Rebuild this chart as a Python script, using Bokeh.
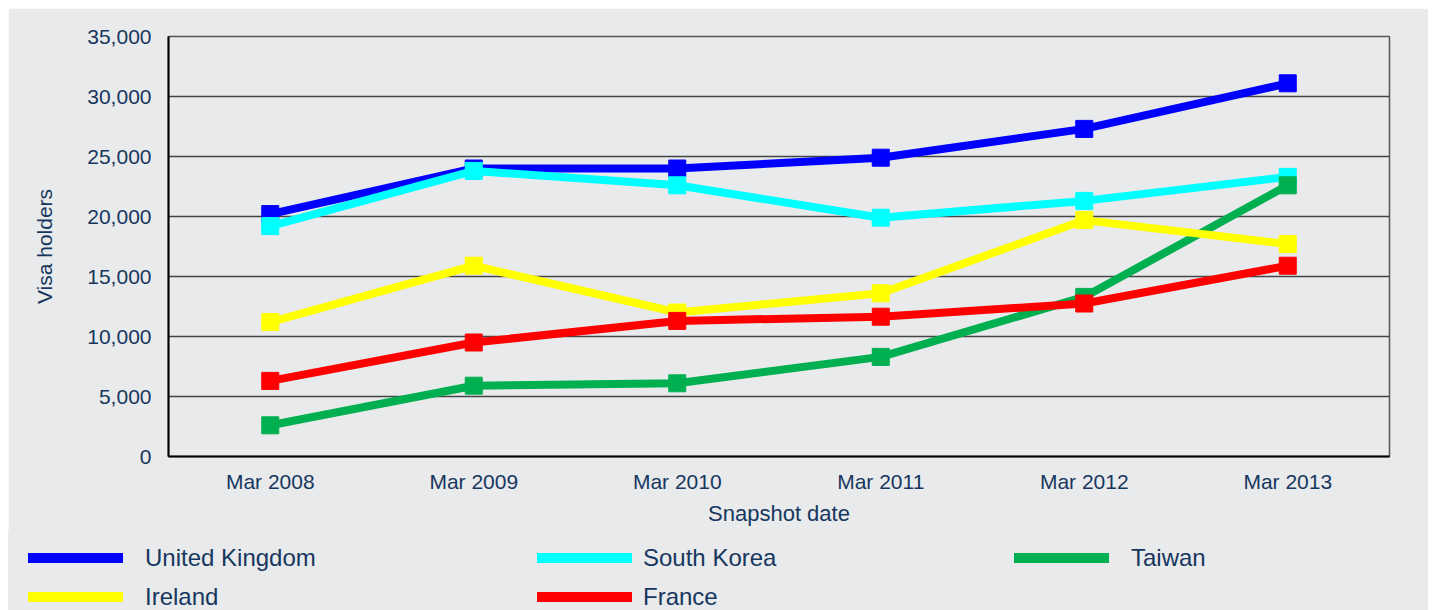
from bokeh.plotting import figure
from bokeh.layouts import column
from bokeh.models import Div, NumeralTickFormatter, FactorRange, Range1d, SingleIntervalTicker
from bokeh.embed import file_html
from bokeh.resources import INLINE

dates = ["Mar 2008", "Mar 2009", "Mar 2010", "Mar 2011", "Mar 2012", "Mar 2013"]
united_kingdom = [20200, 24000, 24000, 24900, 27300, 31100]
south_korea = [19200, 23800, 22600, 19900, 21300, 23300]
taiwan = [2600, 5900, 6100, 8300, 13300, 22600]
ireland = [11200, 15900, 12000, 13600, 19700, 17700]
france = [6300, 9500, 11300, 11650, 12750, 15900]

series_names = ["United Kingdom", "South Korea", "Taiwan", "Ireland", "France"]
series_values = [united_kingdom, south_korea, taiwan, ireland, france]
series_colors = ["#0000ff", "#00ffff", "#00b050", "#ffff00", "#ff0000"]

BG = "#e9eaec"
TXT = "#17375e"
FONT = "Liberation Sans"

p = figure(
    width=1420, height=522,
    x_range=FactorRange(*dates, range_padding=0),
    y_range=Range1d(0, 35000),
    output_backend="svg", toolbar_location=None,
    min_border_left=160, min_border_right=39, min_border_top=28, min_border_bottom=74,
    background_fill_color=BG, border_fill_color=BG,
)
p.margin = (8, 0, 0, 8)
p.outline_line_color = "#555555"
p.outline_line_width = 1.5

p.yaxis.ticker = SingleIntervalTicker(interval=5000)
p.yaxis.formatter = NumeralTickFormatter(format="0,0")
p.ygrid.grid_line_color = "#444444"
p.ygrid.grid_line_width = 1.5
p.xgrid.grid_line_color = None

for ax in (p.xaxis[0], p.yaxis[0]):
    ax.axis_line_color = "black"
    ax.axis_line_width = 2
    ax.major_tick_line_color = None
    ax.minor_tick_line_color = None
    ax.major_label_text_font = FONT
    ax.major_label_text_font_size = "21px"
    ax.major_label_text_color = TXT
    ax.axis_label_text_font = FONT
    ax.axis_label_text_font_style = "normal"
    ax.axis_label_text_color = TXT

p.yaxis.axis_label = "Visa holders"
p.yaxis.axis_label_text_font_size = "21px"
p.yaxis.major_label_standoff = 11
p.yaxis.axis_label_standoff = 28
p.xaxis.axis_label = "Snapshot date"
p.xaxis.axis_label_text_font_size = "22px"
p.xaxis.major_label_standoff = 7
p.xaxis.axis_label_standoff = 5

for vals, color in zip(series_values, series_colors):
    p.line(dates, vals, line_color=color, line_width=8)
    p.scatter(dates, vals, marker="square", size=17, fill_color=color, line_color=color)

# legend strip (3 columns, 2 rows) below the chart
bar_x = [20, 529, 1006]
text_x = [137, 635, 1123]
row_y = [28, 67]
parts = []
for i, (name, color) in enumerate(zip(series_names, series_colors)):
    c = i % 3
    cy = row_y[i // 3]
    parts.append(
        f'<div style="position:absolute;left:{bar_x[c]}px;top:{cy - 5}px;width:95px;height:10px;background:{color};"></div>'
        f'<div style="position:absolute;left:{text_x[c]}px;top:{cy - 13}px;height:26px;line-height:26px;'
        f'font-family:\'{FONT}\';font-size:24px;color:{TXT};white-space:nowrap;">{name}</div>'
    )
html = (
    f'<div style="position:relative;width:1420px;height:80px;background:{BG};overflow:hidden;">'
    + "".join(parts) + "</div>"
)
legend_div = Div(text=html, width=1420, height=80, margin=(0, 0, 0, 8))

layout = column(p, legend_div, spacing=0)
open("out.html", "w").write(file_html(layout, INLINE))
